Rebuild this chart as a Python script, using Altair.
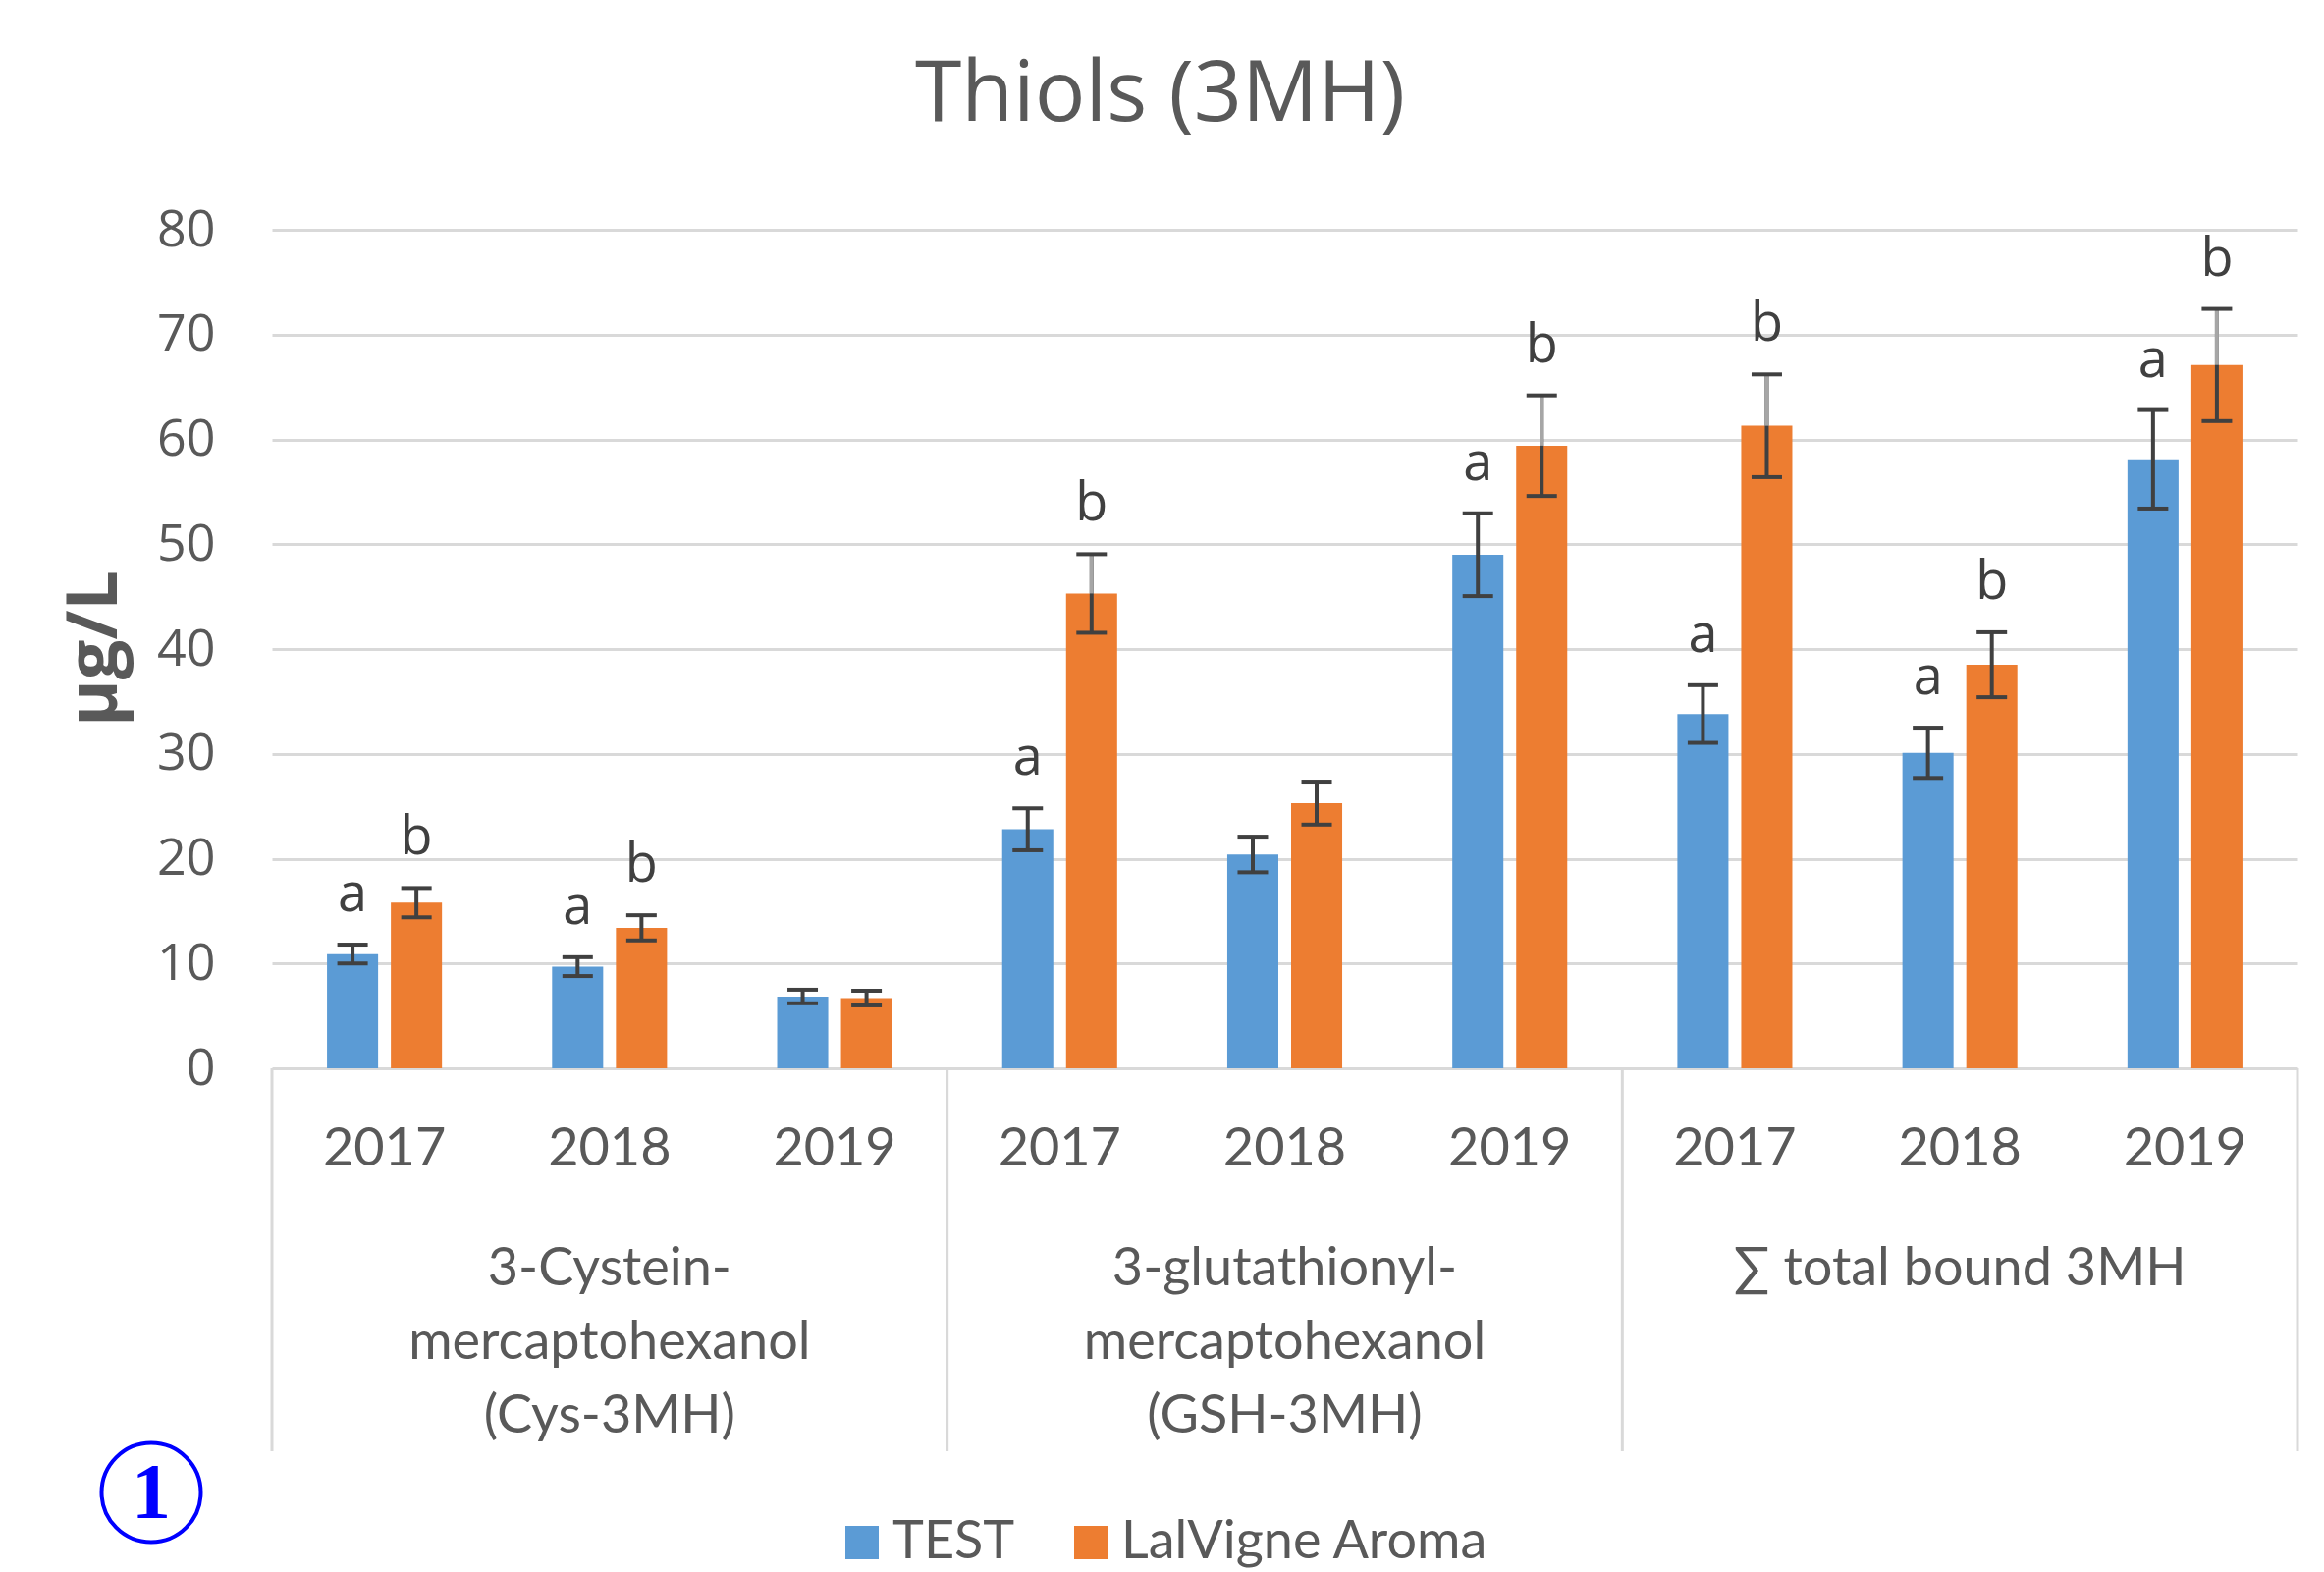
import altair as alt
import pandas as pd

title_text = "Thiols (3MH)"
y_title = "µg/L"
group_keys = ["Cys-3MH", "GSH-3MH", "total"]
group_labels = [
    "3-Cystein-\nmercaptohexanol\n(Cys-3MH)",
    "3-glutathionyl-\nmercaptohexanol\n(GSH-3MH)",
    "∑ total bound 3MH",
]
years = ["2017", "2018", "2019"]
series_names = ["TEST", "LalVigne Aroma"]
series_colors = ["#5b9bd5", "#ed7d31"]

test_values = [10.9, 9.7, 6.85, 22.8, 20.4, 49.0, 33.8, 30.1, 58.1]
test_err = [0.9, 0.9, 0.65, 2.0, 1.7, 3.95, 2.75, 2.4, 4.7]
test_letters = ["a", "a", "", "a", "", "a", "a", "a", "a"]
lal_values = [15.8, 13.4, 6.7, 45.3, 25.3, 59.4, 61.3, 38.5, 67.1]
lal_err = [1.4, 1.2, 0.7, 3.75, 2.05, 4.8, 4.9, 3.1, 5.35]
lal_letters = ["b", "b", "", "b", "", "b", "b", "b", "b"]

y_ticks = [0, 10, 20, 30, 40, 50, 60, 70, 80]
circled_label = ["1"]

slots = [f"{g}|{y}" for g in group_keys for y in years]

rows = []
for i, slot in enumerate(slots):
    for s, vals, errs, lets in [
        (series_names[0], test_values, test_err, test_letters),
        (series_names[1], lal_values, lal_err, lal_letters),
    ]:
        rows.append(dict(slot=slot, series=s, value=vals[i],
                         lo=vals[i] - errs[i], hi=vals[i] + errs[i], letter=lets[i]))
df = pd.DataFrame(rows)

df_groups = pd.DataFrame({"slot": [f"{g}|{years[1]}" for g in group_keys],
                          "label": group_labels})
df_sep_start = pd.DataFrame({"slot": [f"{g}|{years[0]}" for g in group_keys]})
df_sep_end = pd.DataFrame({"slot": [f"{group_keys[-1]}|{years[-1]}"]})
df_ann = pd.DataFrame({"label": circled_label})

W, H = 2063, 854
TXT = "#595959"
DARK = "#404040"
GRID = "#d9d9d9"

xscale = alt.Scale(domain=slots, paddingInner=0, paddingOuter=0)
xaxis = alt.Axis(title=None, labelExpr="split(datum.label, '|')[1]", labelAngle=0,
                 labelFont="Lato", labelFontSize=54, labelColor=TXT, labelPadding=82,
                 labelBaseline="middle", ticks=False, domain=False, grid=False)
x_enc = alt.X("slot:N", sort=slots, scale=xscale, axis=xaxis)
xo_enc = alt.XOffset("series:N", sort=series_names,
                     scale=alt.Scale(domain=series_names, paddingInner=0.2, paddingOuter=0.862))
yscale = alt.Scale(domain=[0, 80], nice=False)
yaxis = alt.Axis(values=y_ticks, title=y_title, titleFont="Open Sans", titleFontSize=72,
                 titleFontWeight="bold", titleColor=TXT, titleX=-181, titleY=426,
                 titleAngle=-90, titleAlign="center", titleBaseline="middle",
                 labelFont="Open Sans", labelFontSize=52, labelColor=TXT, labelPadding=58,
                 ticks=False, domain=False, grid=True, gridColor=GRID, gridWidth=3)

base = alt.Chart(df)

bars = base.mark_bar().encode(
    x=x_enc, xOffset=xo_enc,
    y=alt.Y("value:Q", scale=yscale, axis=yaxis),
    color=alt.Color("series:N", sort=series_names,
                    scale=alt.Scale(domain=series_names, range=series_colors),
                    legend=alt.Legend(title=None, orient="none", legendX=574, legendY=1310,
                                      direction="horizontal", symbolType="square",
                                      symbolSize=1156, symbolStrokeWidth=0, symbolOpacity=1,
                                      labelFont="Lato", labelFontSize=54, labelColor=TXT,
                                      labelOffset=4, columnPadding=50, labelLimit=0,
                                      padding=0)),
)

whisk = base.mark_rule(color=DARK, strokeWidth=4).encode(
    x=x_enc, xOffset=xo_enc, y=alt.Y("lo:Q", scale=yscale), y2="hi:Q")

whisk_light = base.mark_rule(color="#a6a6a6", strokeWidth=4).transform_filter(
    "datum.series == 'LalVigne Aroma' && datum.value > 40"
).encode(x=x_enc, xOffset=xo_enc, y=alt.Y("value:Q", scale=yscale), y2="hi:Q")

cap_hi = base.mark_tick(color=DARK, thickness=4, size=31, orient="horizontal", opacity=1).encode(
    x=x_enc, xOffset=xo_enc, y=alt.Y("hi:Q", scale=yscale))
cap_lo = base.mark_tick(color=DARK, thickness=4, size=31, orient="horizontal", opacity=1).encode(
    x=x_enc, xOffset=xo_enc, y=alt.Y("lo:Q", scale=yscale))

letters = base.mark_text(font="Open Sans", fontSize=54, color=DARK, baseline="alphabetic",
                         align="center", dy=-34).transform_filter(
    "datum.letter != ''"
).encode(x=x_enc, xOffset=xo_enc, y=alt.Y("hi:Q", scale=yscale), text="letter:N")

group_text = alt.Chart(df_groups).mark_text(
    font="Lato", fontSize=54, color=TXT, lineBreak="\n", lineHeight=75,
    baseline="alphabetic", align="center"
).encode(x=x_enc, y=alt.value(1075), text="label:N")

sep_start = alt.Chart(df_sep_start).mark_rule(color=GRID, strokeWidth=3).encode(
    x=alt.X("slot:N", sort=slots, scale=xscale, axis=xaxis, bandPosition=0),
    y=alt.value(H), y2=alt.value(H + 390))
sep_end = alt.Chart(df_sep_end).mark_rule(color=GRID, strokeWidth=3).encode(
    x=alt.X("slot:N", sort=slots, scale=xscale, axis=xaxis, bandPosition=1),
    y=alt.value(H), y2=alt.value(H + 390))

circ = alt.Chart(df_ann).mark_point(shape="circle", filled=False, size=10200, strokeWidth=4,
                                    color="#0000ff", opacity=1).encode(
    x=alt.value(-123), y=alt.value(1286))
circ_txt = alt.Chart(df_ann).mark_text(font="Liberation Serif", fontSize=80, fontWeight="bold",
                                       color="#0000ff", baseline="middle", align="center",
                                       dy=2).encode(
    x=alt.value(-123), y=alt.value(1286), text="label:N")

chart = alt.layer(
    sep_start, sep_end, bars, whisk, whisk_light, cap_hi, cap_lo, letters, group_text,
    circ, circ_txt
).properties(
    width=W, height=H,
    title=alt.Title(title_text, font="Open Sans", fontSize=86, color=TXT, fontWeight="normal",
                    anchor="middle", frame="group", dx=-127, dy=110, offset=109,
                    baseline="alphabetic"),
    autosize=alt.AutoSizeParams(type="none"),
    padding={"left": 269, "top": 226, "right": 19, "bottom": 521},
).configure_view(stroke=None)

chart.save("out.html", embed_options={"renderer": "svg", "actions": False})
